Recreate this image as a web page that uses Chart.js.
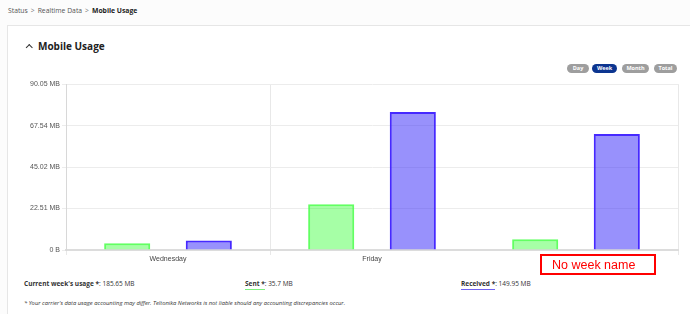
<!DOCTYPE html>
<html>
<head>
<meta charset="utf-8">
<script src="https://cdn.jsdelivr.net/npm/chart.js@4/dist/chart.umd.min.js"></script>
<style>
  html,body{margin:0;padding:0;background:#fcfcfc;width:690px;height:314px;overflow:hidden;font-family:"Open Sans",sans-serif;}
  .crumb{position:absolute;left:8px;top:6px;font-size:6.8px;color:#555;}
  .crumb b{color:#222;font-weight:700;}
  .crumb .sep{margin:0 3px;color:#777;}
  .card{position:absolute;left:7px;top:25px;width:700px;height:320px;background:#fff;border:1px solid #e6e6e6;}
  .title{position:absolute;left:38px;top:39px;font-size:10px;font-weight:700;color:#222;}
  .chev{position:absolute;left:27px;top:45px;width:3.5px;height:3.5px;border-top:1.2px solid #333;border-left:1.2px solid #333;transform:rotate(45deg);}
  .btn{position:absolute;top:64px;height:9px;line-height:9px;border-radius:5px;background:#9e9e9e;color:#fff;font-size:5.5px;font-weight:700;text-align:center;}
  .btn.on{background:#0c3590;}
  #wrap{position:absolute;left:0;top:78px;width:690px;height:190px;}
  .stats{position:absolute;top:279px;font-size:6.5px;color:#333;}
  .stats b{font-weight:700;}
  .u{display:inline-block;position:relative;}
  .u::after{content:"";position:absolute;left:0;right:0;bottom:-2px;height:1.5px;}
  .ug::after{background:#7df07d;}
  .up::after{background:#6f62f0;}
  .note{position:absolute;left:24px;top:299px;font-size:5.8px;font-style:italic;color:#333;}
  .red{position:absolute;left:540px;top:254px;width:102px;height:17px;border:2px solid #ff0000;color:#ff0000;font-family:"Liberation Sans",Arial,sans-serif;font-size:12.5px;line-height:19px;padding-left:10px;}
</style>
</head>
<body>
<div class="crumb">Status<span class="sep">&gt;</span>Realtime Data<span class="sep">&gt;</span><b>Mobile Usage</b></div>
<div class="card"></div>
<div class="chev"></div>
<div class="title">Mobile Usage</div>
<div class="btn" style="left:567px;width:22px;">Day</div>
<div class="btn on" style="left:592px;width:25px;">Week</div>
<div class="btn" style="left:622px;width:27px;">Month</div>
<div class="btn" style="left:654px;width:23px;">Total</div>
<div id="wrap"><canvas id="c"></canvas></div>
<div class="stats" style="left:24px;"><b>Current week's usage *</b>: 185.65 MB</div>
<div class="stats" style="left:245px;"><b class="u ug">Sent *</b>: 35.7 MB</div>
<div class="stats" style="left:461px;"><b class="u up">Received *</b>: 149.95 MB</div>
<div class="note">* Your carrier's data usage accounting may differ. Teltonika Networks is not liable should any accounting discrepancies occur.</div>
<div class="red">No week name</div>
<script>
const categories = ["Wednesday", "Friday", ""];
const sentMB = [3.6, 24.8, 5.8];
const receivedMB = [5.1, 75.0, 63.0];
const yTickLabels = ["0 B", "22.51 MB", "45.02 MB", "67.54 MB", "90.05 MB"];
const yMax = 90.05;

new Chart(document.getElementById('c'), {
  type: 'bar',
  data: {
    labels: categories,
    datasets: [
      {label: 'Sent', data: sentMB, backgroundColor: 'rgba(0,255,0,0.35)', borderColor: 'rgba(70,255,70,0.85)', borderWidth: 2, categoryPercentage: 0.8, barPercentage: 0.565},
      {label: 'Received', data: receivedMB, backgroundColor: 'rgba(50,35,250,0.5)', borderColor: 'rgba(60,30,255,0.95)', borderWidth: 2, categoryPercentage: 0.8, barPercentage: 0.565}
    ]
  },
  options: {
    responsive: true,
    maintainAspectRatio: false,
    animation: false,
    layout: {padding: {left: 0, right: 12, top: 6, bottom: 0}},
    plugins: {legend: {display: false}, tooltip: {enabled: false}},
    scales: {
      x: {
        grid: {
          offset: true,
          color: (ctx) => ctx.index === 2 ? 'rgba(0,0,0,0)' : '#e8e8e8',
          tickLength: 5
        },
        border: {color: '#dcdcdc', width: 2},
        ticks: {font: {family: 'Liberation Sans', size: 7}, color: '#444', padding: 0, maxRotation: 0},
        afterFit: (s) => { s.height = 18; }
      },
      y: {
        min: 0, max: yMax,
        grid: {color: '#ececec', tickLength: 4},
        border: {color: '#d8d8d8', width: 1},
        ticks: {
          stepSize: yMax / 4,
          font: {family: 'Liberation Sans', size: 7}, color: '#555', padding: 2,
          callback: (v, i) => yTickLabels[i]
        },
        afterFit: (s) => { s.width = 66; }
      }
    }
  }
});
</script>
</body>
</html>
